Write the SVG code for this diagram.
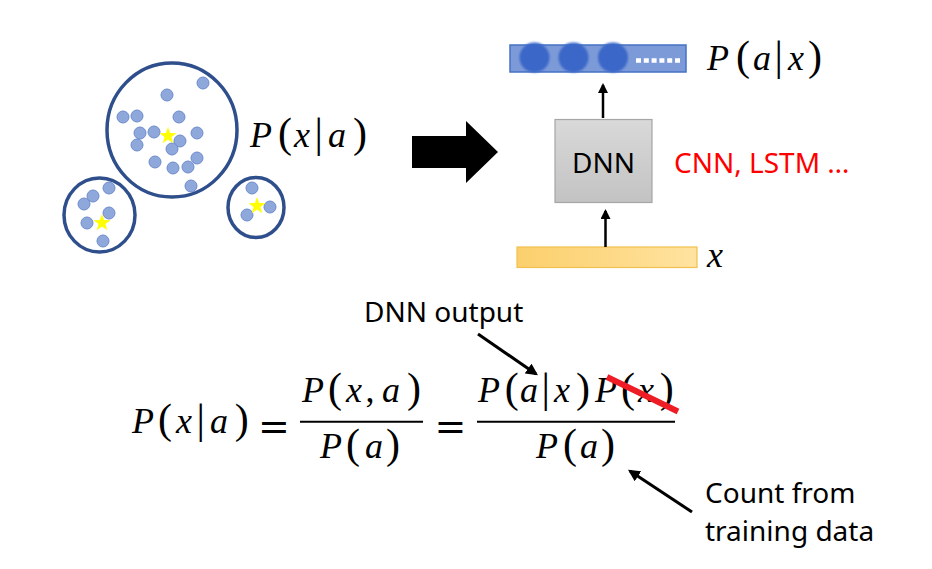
<svg xmlns="http://www.w3.org/2000/svg" width="932" height="569" viewBox="0 0 932 569">
<defs>
<style>
.ring{fill:none;stroke:#2F4F8C;stroke-width:3.5}
.dot{fill:#8FA8DC;stroke:#6E8CCB;stroke-width:1}
.star{fill:#FFFF00}
.m{font-family:"Liberation Serif",serif;font-size:36px;fill:#000}
.i{font-style:italic}
.p{font-size:42px}
.eq{font-family:"DejaVu Sans",sans-serif;font-size:38px;fill:#000}
.s{font-family:"Noto Sans",sans-serif;font-size:28px;fill:#000}
.red{fill:#FF0000}
.conn{stroke:#000;stroke-width:3;fill:none}
.thin{stroke:#000;stroke-width:2.5;fill:none}
.bar{stroke:#000;stroke-width:2}
.unit{fill:#3A67C8}
</style>
<path id="star" d="M0,-9 L2.12,-2.91 L8.56,-2.78 L3.42,1.11 L5.29,7.28 L0,3.6 L-5.29,7.28 L-3.42,1.11 L-8.56,-2.78 L-2.12,-2.91Z"/>
<marker id="ah" viewBox="0 0 10 10" refX="8" refY="5" markerWidth="4" markerHeight="4" orient="auto" markerUnits="strokeWidth">
<path d="M0,0 L10,5 L0,10 Z" fill="#000"/>
</marker>
<linearGradient id="gray" x1="0" y1="0" x2="0" y2="1">
<stop offset="0" stop-color="#D9D9D9"/><stop offset="1" stop-color="#C3C3C3"/>
</linearGradient>
<linearGradient id="yel" x1="0" y1="0" x2="1" y2="0">
<stop offset="0" stop-color="#FBCF6C"/><stop offset="1" stop-color="#FFE3A0"/>
</linearGradient>
<filter id="soft" x="-20%" y="-20%" width="140%" height="140%">
<feGaussianBlur stdDeviation="1"/>
</filter>
</defs>
<rect width="932" height="569" fill="#FFFFFF"/>

<g id="cluster-big">
<ellipse class="ring" cx="172" cy="130" rx="65" ry="67"/>
<circle class="dot" cx="203" cy="83" r="6"/>
<circle class="dot" cx="167" cy="95" r="6"/>
<circle class="dot" cx="123" cy="117" r="6"/>
<circle class="dot" cx="137" cy="116" r="6"/>
<circle class="dot" cx="179" cy="117" r="6"/>
<circle class="dot" cx="140" cy="133" r="6"/>
<circle class="dot" cx="154" cy="132" r="6"/>
<circle class="dot" cx="197" cy="133" r="6"/>
<circle class="dot" cx="137" cy="145" r="6"/>
<circle class="dot" cx="180" cy="141" r="6"/>
<circle class="dot" cx="172" cy="149" r="6"/>
<circle class="dot" cx="155" cy="162" r="6"/>
<circle class="dot" cx="173" cy="168" r="6"/>
<circle class="dot" cx="197" cy="158" r="6"/>
<circle class="dot" cx="188" cy="167" r="6"/>
<circle class="dot" cx="191" cy="186" r="6"/>
<use href="#star" class="star" x="168" y="136"/>
</g>

<g id="cluster-left">
<ellipse class="ring" cx="99.5" cy="215" rx="35.5" ry="37"/>
<circle class="dot" cx="109" cy="188" r="6"/>
<circle class="dot" cx="93" cy="196" r="6"/>
<circle class="dot" cx="84" cy="204" r="6"/>
<circle class="dot" cx="109" cy="213" r="6"/>
<circle class="dot" cx="87" cy="223" r="6"/>
<circle class="dot" cx="103" cy="241" r="6"/>
<use href="#star" class="star" x="102" y="223"/>
</g>

<g id="cluster-right">
<ellipse class="ring" cx="256" cy="207.5" rx="28" ry="30"/>
<circle class="dot" cx="252" cy="188" r="6"/>
<circle class="dot" cx="270" cy="207" r="6"/>
<circle class="dot" cx="247" cy="215" r="6"/>
<use href="#star" class="star" x="257" y="206"/>
</g>

<g id="label-pxa">
<text class="m" y="147"><tspan class="i" x="250">P</tspan><tspan class="p" x="278">(</tspan><tspan class="i" x="294">x</tspan><tspan class="p" x="314.6">|</tspan><tspan class="i" x="328">a</tspan><tspan class="p" x="353">)</tspan></text>
</g>

<g id="output-layer">
<rect x="510" y="45" width="176" height="27" fill="#7D9AD8" stroke="#4472C4" stroke-width="1.5"/>
<g filter="url(#soft)">
<circle class="unit" cx="534.5" cy="57.5" r="15"/>
<circle class="unit" cx="573.5" cy="57.5" r="15"/>
<circle class="unit" cx="613" cy="57.5" r="15"/>
</g>
<line x1="636" y1="60.5" x2="680" y2="60.5" stroke="#FFFFFF" stroke-width="4.5" stroke-dasharray="5 2.8"/>
</g>

<g id="label-pax">
<text class="m" y="70"><tspan class="i" x="707">P</tspan><tspan class="p" x="736">(</tspan><tspan class="i" x="753">a</tspan><tspan class="p" x="774.6">|</tspan><tspan class="i" x="788">x</tspan><tspan class="p" x="808">)</tspan></text>
</g>

<g id="dnn">
<rect x="555" y="119.5" width="97" height="83" fill="url(#gray)" stroke="#A6A6A6" stroke-width="1.2"/>
<text class="s" x="603.5" y="173" font-size="27" text-anchor="middle">DNN</text>
</g>

<g id="label-models">
<text class="s red" x="674" y="173" font-size="27">CNN, LSTM …</text>
</g>

<g id="input">
<rect x="517" y="247" width="180" height="20.5" fill="url(#yel)" stroke="#F2C04F" stroke-width="1.2"/>
<text class="m i" x="707" y="267" font-size="38">x</text>
</g>

<g id="formula">
<text class="m" y="433"><tspan class="i" x="132">P</tspan><tspan class="p" x="158">(</tspan><tspan class="i" x="176">x</tspan><tspan class="p" x="196.6">|</tspan><tspan class="i" x="210">a</tspan><tspan class="p" x="234.7">)</tspan></text>
<text class="eq" x="258" y="438.5">=</text>
<text class="m" y="402"><tspan class="i" x="302">P</tspan><tspan class="p" x="328">(</tspan><tspan class="i" x="346">x</tspan><tspan x="365.6">,</tspan><tspan class="i" x="382">a</tspan><tspan class="p" x="407">)</tspan></text>
<line class="bar" x1="300" y1="421.7" x2="423" y2="421.7"/>
<text class="m" y="458"><tspan class="i" x="320">P</tspan><tspan class="p" x="346">(</tspan><tspan class="i" x="365">a</tspan><tspan class="p" x="386">)</tspan></text>
<text class="eq" x="434.5" y="438.5">=</text>
<text class="m" y="402"><tspan class="i" x="478">P</tspan><tspan class="p" x="504.7">(</tspan><tspan class="i" x="520">a</tspan><tspan class="p" x="541.6">|</tspan><tspan class="i" x="554">x</tspan><tspan class="p" x="576">)</tspan><tspan class="i" x="595">P</tspan><tspan class="p" x="621">(</tspan><tspan class="i" x="638">x</tspan><tspan class="p" x="659.7">)</tspan></text>
<line class="bar" x1="477" y1="421.7" x2="675" y2="421.7"/>
<text class="m" y="458"><tspan class="i" x="536">P</tspan><tspan class="p" x="563">(</tspan><tspan class="i" x="580">a</tspan><tspan class="p" x="601">)</tspan></text>
<line x1="607" y1="377" x2="678" y2="411.5" stroke="#EE1C25" stroke-width="6"/>
</g>

<g id="label-dnn-output">
<text class="s" x="364" y="322">DNN output</text>
</g>
<g id="label-count">
<text class="s" x="705" y="503">Count from</text>
<text class="s" x="705" y="541">training data</text>
</g>

<g id="connectors">
<polygon points="412,136 466,136 466,121 498,152 466,183 466,168 412,168" fill="#000"/>
<line class="thin" x1="603" y1="118" x2="603" y2="85" marker-end="url(#ah)"/>
<line class="thin" x1="605.5" y1="247" x2="605.5" y2="211" marker-end="url(#ah)"/>
<line class="conn" x1="478" y1="334" x2="536" y2="374" marker-end="url(#ah)"/>
<line class="conn" x1="692" y1="512" x2="630" y2="471" marker-end="url(#ah)"/>
</g>
</svg>
